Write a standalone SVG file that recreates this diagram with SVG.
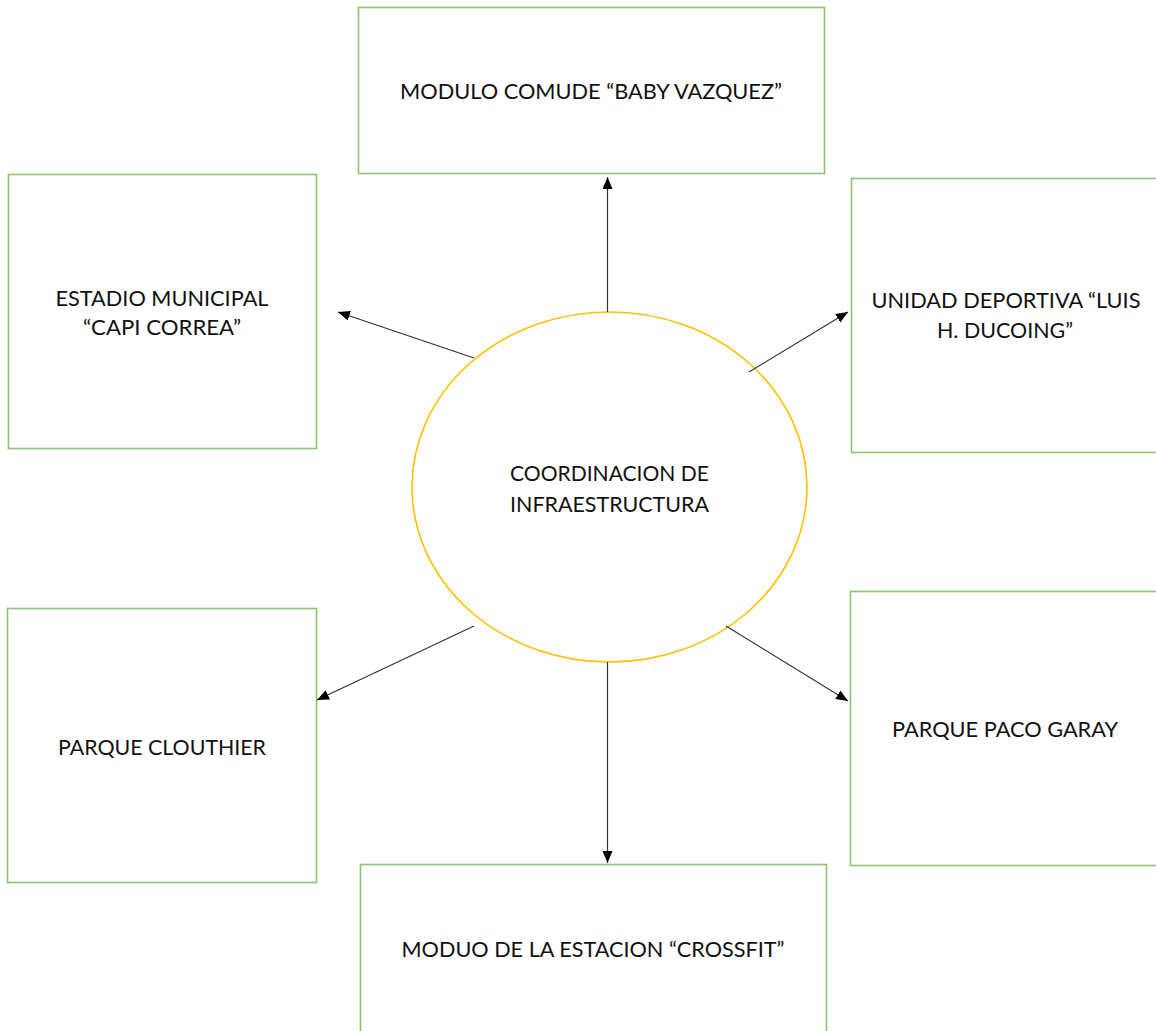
<svg xmlns="http://www.w3.org/2000/svg" width="1156" height="1031" viewBox="0 0 1156 1031">
<style>
.box{fill:#fff;stroke:#8DC46E;stroke-width:1.6}
.ell{fill:#fff;stroke:#FFC000;stroke-width:1.6}
.t{font-family:Lato,"Open Sans","Liberation Sans",sans-serif;font-size:22px;fill:#111;text-anchor:middle}
.c{stroke:#333;stroke-width:1.2;fill:none;marker-end:url(#ah)}
</style>
<defs>
<marker id="ah" markerUnits="userSpaceOnUse" markerWidth="13" markerHeight="11" refX="12" refY="5" orient="auto">
<path d="M0,0 L12,5 L0,10 z" fill="#000"/>
</marker>
</defs>
<rect width="1156" height="1031" fill="#fff"/>
<g id="node-modulo-comude">
<rect class="box" x="358.5" y="7.5" width="466" height="166"/>
<text class="t" x="591" y="99" textLength="382" lengthAdjust="spacingAndGlyphs">MODULO COMUDE “BABY VAZQUEZ”</text>
</g>
<g id="node-estadio">
<rect class="box" x="8.5" y="174.5" width="308" height="274"/>
<text class="t" x="162" y="306" textLength="213" lengthAdjust="spacingAndGlyphs">ESTADIO MUNICIPAL</text>
<text class="t" x="162" y="335" textLength="158" lengthAdjust="spacingAndGlyphs">“CAPI CORREA”</text>
</g>
<g id="node-unidad">
<rect class="box" x="851.5" y="178.5" width="310" height="274"/>
<text class="t" x="1006" y="308" textLength="269" lengthAdjust="spacingAndGlyphs">UNIDAD DEPORTIVA “LUIS</text>
<text class="t" x="1005" y="338" textLength="136" lengthAdjust="spacingAndGlyphs">H. DUCOING”</text>
</g>
<g id="node-coordinacion">
<ellipse class="ell" cx="609.5" cy="487" rx="197.5" ry="175"/>
<text class="t" x="609.5" y="481" textLength="199" lengthAdjust="spacingAndGlyphs">COORDINACION DE</text>
<text class="t" x="609.5" y="512" textLength="199" lengthAdjust="spacingAndGlyphs">INFRAESTRUCTURA</text>
</g>
<g id="node-clouthier">
<rect class="box" x="7.5" y="608.5" width="309" height="274"/>
<text class="t" x="162" y="755" textLength="208" lengthAdjust="spacingAndGlyphs">PARQUE CLOUTHIER</text>
</g>
<g id="node-paco-garay">
<rect class="box" x="850.5" y="591.5" width="310" height="274"/>
<text class="t" x="1005" y="737" textLength="226" lengthAdjust="spacingAndGlyphs">PARQUE PACO GARAY</text>
</g>
<g id="node-crossfit">
<rect class="box" x="360.5" y="864.5" width="466" height="180"/>
<text class="t" x="593" y="957" textLength="383" lengthAdjust="spacingAndGlyphs">MODUO DE LA ESTACION “CROSSFIT”</text>
</g>
<g id="connectors">
<line class="c" x1="607.5" y1="312" x2="607.5" y2="177"/>
<line class="c" x1="474" y1="358" x2="338" y2="312"/>
<line class="c" x1="749" y1="372" x2="848" y2="312"/>
<line class="c" x1="474" y1="626" x2="317" y2="700"/>
<line class="c" x1="607.5" y1="662" x2="607.5" y2="863"/>
<line class="c" x1="726" y1="626" x2="848" y2="701"/>
</g>
</svg>
